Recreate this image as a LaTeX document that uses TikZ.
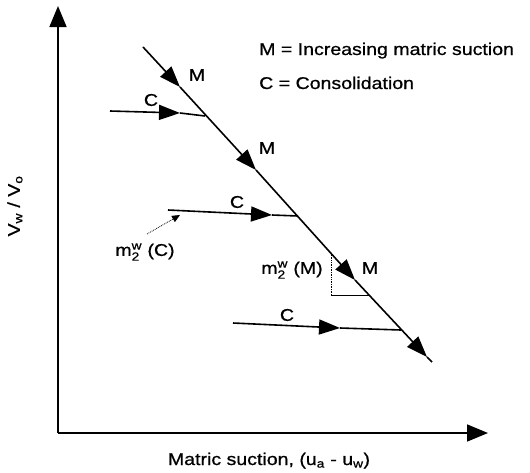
\documentclass[tikz,border=0pt]{standalone}
\usepackage{amsmath}
\usepackage{fontspec}
\setmainfont{Liberation Sans}[FakeStretch=1.15,FakeBold=0.8]
\usetikzlibrary{arrows.meta}

\newcommand{\mwtwo}{m$^{\text{w}}_{\text{2}}$}

\begin{document}
\begin{tikzpicture}[
  x=1pt,y=-1pt,
  axis/.style={line width=1.6pt,-{Triangle[length=21pt,width=17pt]}},
  flow/.style={line width=1.6pt,-{Triangle[length=21pt,width=15pt]}},
  seg/.style={line width=1.6pt},
  slope/.style={line width=0.7pt},
  pointer/.style={line width=0.8pt,densely dotted,-{Triangle[length=8pt,width=7pt]}},
  every node/.style={font=\fontsize{17}{20}\selectfont,inner sep=1pt}
]
  \useasboundingbox (0,0) rectangle (530,472);
  % axes
  \coordinate (origin) at (58,433);
  \coordinate (ytop) at (58,6);
  \coordinate (xend) at (488,433);
  \draw[axis] (origin) -- (ytop);
  \draw[axis] (origin) -- (xend);
  \node[rotate=90] (ylabel) at (15,206) {V\textsubscript{w} / V\textsubscript{o}};
  \node[anchor=base] (xlabel) at (269,465) {Matric suction, (u\textsubscript{a} - u\textsubscript{w})};
  % legend
  \node[anchor=base west] (legM) at (258,55) {M = Increasing matric suction};
  \node[anchor=base west] (legC) at (258,89) {C = Consolidation};
  % increasing matric suction path
  \coordinate (d0) at (143,47);
  \coordinate (m1) at (180,87);
  \coordinate (m2) at (256,170);
  \coordinate (m3) at (355,280);
  \coordinate (m4) at (427,357);
  \coordinate (d5) at (432,362);
  \draw[flow] (d0) -- (m1);
  \draw[flow] (m1) -- (m2);
  \draw[flow] (m2) -- (m3);
  \draw[flow] (m3) -- (m4);
  \draw[seg] (m4) -- (d5);
  \node (labM1) at (197,75) {M};
  \node (labM2) at (267,148) {M};
  \node (labM3) at (370,268) {M};
  % consolidation paths
  \coordinate (c1s) at (110,111);
  \coordinate (c1a) at (180,113);
  \coordinate (c1e) at (205,116);
  \coordinate (c2s) at (168,210);
  \coordinate (c2a) at (272,215);
  \coordinate (c2e) at (298,216);
  \coordinate (c3s) at (233,323);
  \coordinate (c3a) at (340,328);
  \coordinate (c3e) at (401,330);
  \draw[flow] (c1s) -- (c1a);
  \draw[seg] (c1a) -- (c1e);
  \draw[flow] (c2s) -- (c2a);
  \draw[seg] (c2a) -- (c2e);
  \draw[flow] (c3s) -- (c3a);
  \draw[seg] (c3a) -- (c3e);
  \node (labC1) at (151,100) {C};
  \node (labC2) at (237,202) {C};
  \node (labC3) at (287,315) {C};
  % slopes
  \node (mC) at (145,252) {\mwtwo\ (C)};
  \coordinate (tailC) at (147,234);
  \coordinate (tipC) at (180,215);
  \draw[pointer] (tailC) -- (tipC);
  \node (mM) at (292,270) {\mwtwo\ (M)};
  \coordinate (s1) at (331,255);
  \coordinate (s2) at (331,295);
  \coordinate (s3) at (370,295);
  \draw[slope,densely dotted] (s1) -- (s2);
  \draw[slope] (s2) -- (s3);
\end{tikzpicture}
\end{document}
